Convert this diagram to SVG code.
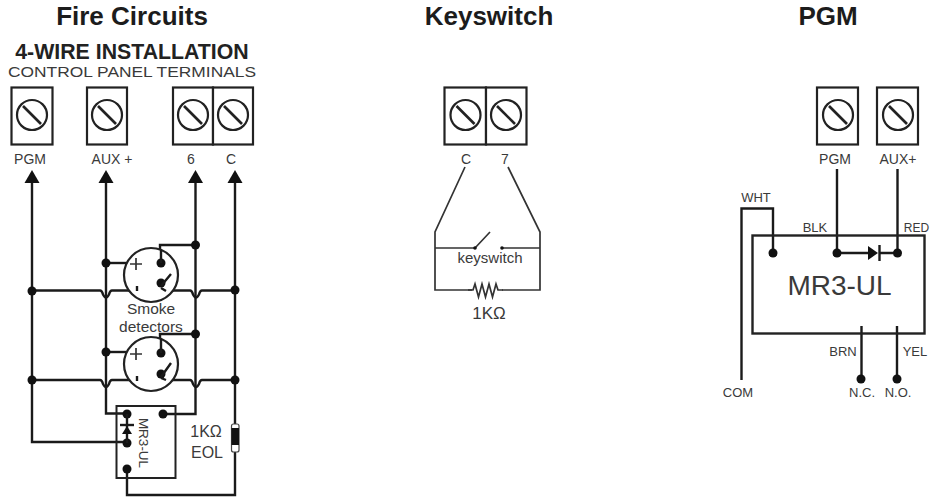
<svg xmlns="http://www.w3.org/2000/svg" width="930" height="498" viewBox="0 0 930 498">
<style>
text{font-family:"Liberation Sans",Arial,sans-serif;fill:#3a3a3a;text-anchor:middle}
.title{font-size:26px;font-weight:bold;fill:#1c1c1c}
.sub{font-size:21.300px;font-weight:bold;fill:#222}
.t{font-size:14px}
.s{font-size:13px}
.m{font-size:15.500px}
.w{fill:none;stroke:#1a1a1a;stroke-width:2.400}
.n{fill:none;stroke:#333;stroke-width:1.700}
.b{fill:#fff;stroke:#222;stroke-width:2.200}
.d{fill:#111}
</style>
<defs>
<g id="screw"><circle r="15" fill="#fff" stroke="#222" stroke-width="2.200"/><path d="M-9-9 9 9" stroke="#222" stroke-width="2.600"/></g>
<path id="arrow" class="d" d="M0 0 7.500 13H-7.500Z"/>
<circle id="dot" class="d" r="4.500"/>
<path id="hump" class="w" d="M-8 0h2q2 0 3 4q3 6 6 0q1-4 3-4h2"/>
</defs>

<text class="title" x="132" y="25">Fire Circuits</text>
<text class="title" x="489" y="25">Keyswitch</text>
<text class="title" x="828" y="25">PGM</text>
<text class="sub" x="132" y="59">4-WIRE INSTALLATION</text>
<text class="m" x="132" y="77" textLength="248" lengthAdjust="spacingAndGlyphs">CONTROL PANEL TERMINALS</text>

<g id="fire-pgm-terminal"><rect class="b" x="11.500" y="87.500" width="41" height="57"/><use href="#screw" x="32" y="115"/><text class="t" x="30" y="164">PGM</text></g>
<g id="fire-aux-terminal"><rect class="b" x="87" y="87.500" width="40" height="57"/><use href="#screw" x="107" y="115"/><text class="t" x="112" y="164">AUX +</text></g>
<g id="fire-6-terminal"><rect class="b" x="173" y="87.500" width="40" height="57"/><use href="#screw" x="193" y="115"/><text class="t" x="191" y="164">6</text></g>
<g id="fire-c-terminal"><rect class="b" x="213" y="87.500" width="40" height="57"/><use href="#screw" x="233" y="115"/><text class="t" x="231" y="164">C</text></g>

<g id="connectors">
<path class="w" d="M32 180V442H127"/>
<path class="w" d="M106 180V413.500H127"/>
<path class="w" d="M195.500 180V414H163"/>
<path class="w" d="M235 180V424M235 452V495H127V469"/>
<path class="w" d="M195 245H160V263"/>
<path class="w" d="M195 334H160V353"/>
<path class="w" d="M106 263H128"/>
<path class="w" d="M106 352H128"/>
<path class="w" d="M32 290.500H98M114 290.500H130M165 290.500H188M204 290.500H235"/>
<path class="w" d="M32 380H98M114 380H130M165 380H188M204 380H235"/>
<use href="#hump" x="106" y="290.500"/><use href="#hump" x="196" y="290.500"/>
<use href="#hump" x="106" y="380"/><use href="#hump" x="196" y="380"/>
<use href="#arrow" x="32" y="170"/><use href="#arrow" x="106" y="170"/><use href="#arrow" x="195.500" y="170"/><use href="#arrow" x="235" y="170"/>
<use href="#dot" x="32" y="291"/><use href="#dot" x="32" y="380"/>
<use href="#dot" x="106" y="263"/><use href="#dot" x="106" y="352"/>
<use href="#dot" x="195.500" y="245"/><use href="#dot" x="195.500" y="334"/>
<use href="#dot" x="235" y="290"/><use href="#dot" x="235" y="380"/>
<path class="n" d="M465 167 435 232V290H472M508 167 540 232V290H502M435 248H475M502 248H540M475 248 490 232"/>
<path class="n" d="M468 290h5l2-6 3.500 13 3.500-13 3.500 13 3.500-13 3.500 13 3.500-13 2 6h5"/>
<path class="w" d="M837 169V253M897.500 169V253M837 253H868M880 253H897.500"/>
<path class="w" d="M741.500 380V208.500H773V253"/>
<path class="w" d="M861.500 326V378M897 326V378"/>
</g>

<g id="smoke-detector-1"><circle class="b" cx="151" cy="275" r="27"/><path class="n" d="M130 264h12M136 258v12"/><path class="w" d="M137 286v5"/><circle class="d" cx="161" cy="263" r="4.500"/><circle class="d" cx="161" cy="283" r="4.500"/><path class="w" d="M161 263V250M161 286 171 274M161 288l5 3"/></g>
<g id="smoke-detector-2"><circle class="b" cx="151" cy="364" r="27"/><path class="n" d="M130 354h12M136 348v12"/><path class="w" d="M137 376v5"/><circle class="d" cx="161" cy="353" r="4.500"/><circle class="d" cx="161" cy="374" r="4.500"/><path class="w" d="M161 353V339M161 377 171 363M161 378l5 2"/></g>
<text class="m" x="151" y="314">Smoke</text>
<text class="m" x="151" y="332">detectors</text>

<g id="fire-mr3"><rect x="116.500" y="406" width="59" height="72" fill="none" stroke="#222" stroke-width="2"/>
<use href="#dot" x="127" y="414"/><use href="#dot" x="163" y="414"/><use href="#dot" x="127" y="443"/><use href="#dot" x="127" y="469"/>
<path class="w" d="M127 414V443"/><path class="w" d="M120 425H134"/><path class="d" d="M127 426 122 434H132Z"/>
<text style="font-size:13.500px" transform="translate(139 443) rotate(90)">MR3-UL</text></g>

<g id="eol-resistor"><rect x="231.500" y="424" width="7.500" height="28" rx="2" fill="#fff" stroke="#444" stroke-width="1.200"/><rect x="231.500" y="428" width="7.500" height="17" fill="#111"/>
<text style="font-size:16px" x="206" y="437">1KΩ</text><text style="font-size:16px" x="207" y="458">EOL</text></g>

<g id="key-terminal-c"><rect class="b" x="444.500" y="87.500" width="41.500" height="57"/><use href="#screw" x="465.500" y="115"/><text class="t" x="466" y="164">C</text></g>
<g id="key-terminal-7"><rect class="b" x="486" y="87.500" width="40.500" height="57"/><use href="#screw" x="506" y="115"/><text class="t" x="505" y="164">7</text></g>
<g id="keyswitch"><circle class="d" cx="475" cy="248" r="1.800"/><circle class="d" cx="502" cy="248" r="1.800"/><text style="font-size:15px" x="490" y="263">keyswitch</text><text style="font-size:17px" x="489" y="319">1KΩ</text></g>

<g id="pgm-terminal"><rect class="b" x="817" y="87.500" width="41" height="57"/><use href="#screw" x="838" y="115"/><text class="t" x="835" y="164">PGM</text></g>
<g id="aux-terminal"><rect class="b" x="877" y="87.500" width="41" height="57"/><use href="#screw" x="898" y="115"/><text class="t" x="898" y="164">AUX+</text></g>
<g id="mr3-ul"><rect x="752.500" y="235.500" width="172" height="98" fill="none" stroke="#222" stroke-width="2.400"/>
<use href="#dot" x="773" y="253"/><use href="#dot" x="837" y="253"/><use href="#dot" x="897.500" y="253"/>
<path class="d" d="M868 246 878 253 868 260Z"/><path class="w" d="M879.500 245V261"/>
<text style="font-size:28px" x="839.500" y="295">MR3-UL</text></g>
<use href="#dot" x="861" y="379"/><use href="#dot" x="897" y="379"/>
<text class="s" x="756" y="202">WHT</text><text class="s" x="815" y="232">BLK</text><text style="font-size:12px" x="916.500" y="232">RED</text><text class="s" x="843" y="356">BRN</text><text class="s" x="915" y="356">YEL</text>
<text class="s" x="738" y="397">COM</text><text class="s" x="862" y="397">N.C.</text><text class="s" x="898" y="397">N.O.</text>
</svg>
